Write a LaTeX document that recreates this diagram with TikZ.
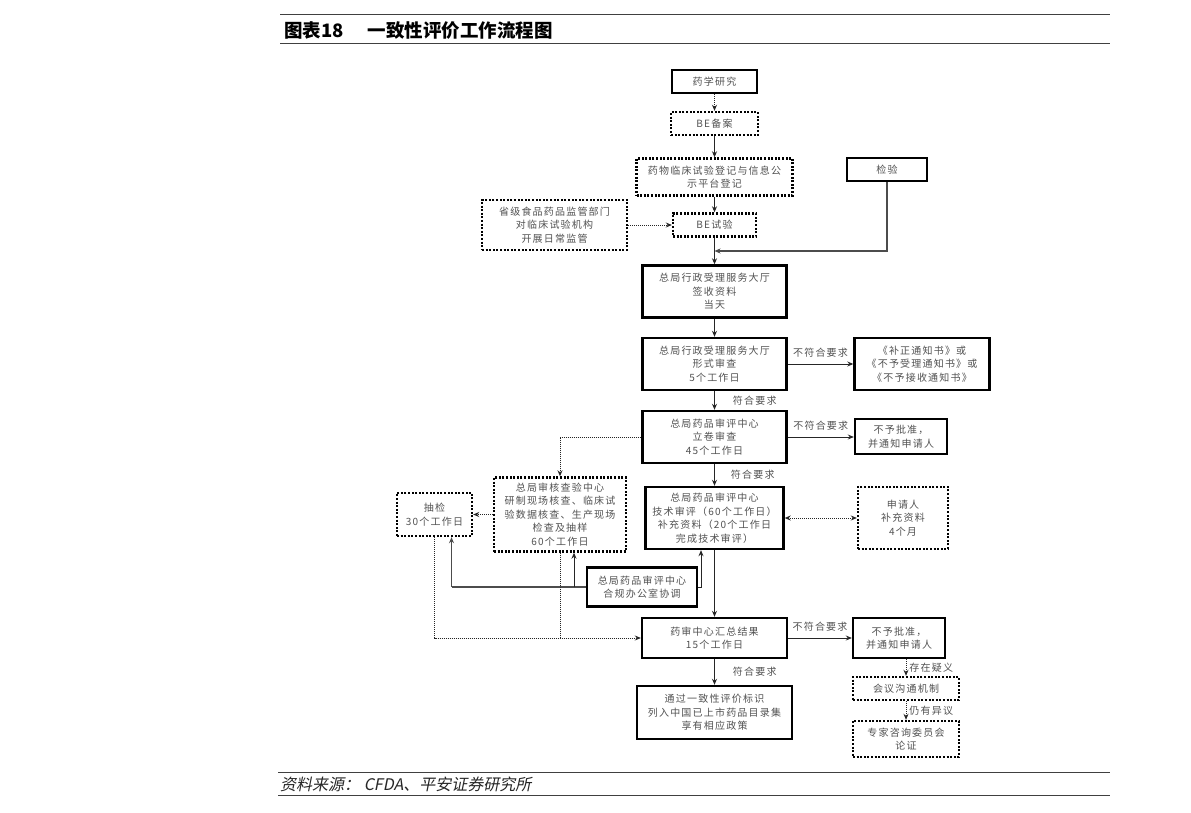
\documentclass[tikz,border=0pt]{standalone}
\usepackage{fontspec}
\newfontfamily\cjk{Noto Sans CJK SC}[LetterSpace=12]
\newfontfamily\cjkt{Noto Sans CJK SC}
\newfontfamily\cjki{Noto Sans CJK SC}[FakeSlant=0.2]
\usetikzlibrary{arrows.meta}
\begin{document}
\begin{tikzpicture}[x=1pt,y=-1pt,
  box/.style={draw=black, line width=2.4pt, align=center, inner sep=0pt,
    font=\cjk\fontsize{10}{13.5}\selectfont, text=black!68},
  sbox/.style={box},
  dbox/.style={box, dash pattern=on 2pt off 1.6pt},
  sz/.style 2 args={minimum width=#1pt, minimum height=#2pt},
  arr/.style={line width=0.9pt, draw=black!85, -{Stealth[length=6pt,width=5pt]}},
  darr/.style={arr, dash pattern=on 1pt off 1pt},
  dline/.style={line width=0.9pt, draw=black!85, dash pattern=on 1pt off 1pt},
  gline/.style={line width=1.3pt, draw=black!70, -{Stealth[length=6pt,width=5pt]}},
  lbl/.style={font=\cjk\fontsize{10}{12}\selectfont, text=black!68, inner sep=1pt},
  rule/.style={line width=1pt, draw=black!75}]
\useasboundingbox (0,0) rectangle (1191,813);
\fill[white] (0,0) rectangle (1191,813);

% header and footer
\draw[rule] (280,15) -- (1110,15);
\draw[rule] (280,44) -- (1110,44);
\node[anchor=west, inner sep=0pt, font=\cjkt\bfseries\fontsize{18.5}{18.5}\selectfont] (title) at (284,31) {图表18\hspace{24pt}一致性评价工作流程图};
\draw[rule] (278,772) -- (1110,772);
\draw[rule] (278,795) -- (1110,795);
\node[anchor=west, inner sep=0pt, font=\cjki\fontsize{16}{16}\selectfont, text=black!85] (src) at (280,784) {资料来源： CFDA、平安证券研究所};

% nodes
\node[sbox, sz={85}{23}] (yxyj) at (714.5,81.5) {药学研究};
\node[dbox, sz={87}{23}] (beba) at (714.5,123.5) {BE备案};
\node[dbox, sz={156}{37}] (djb) at (714.5,177) {药物临床试验登记与信息公\\示平台登记};
\node[sbox, sz={80}{23}] (jy) at (887,169.5) {检验};
\node[dbox, sz={145}{50}] (sj) at (554.5,225) {省级食品药品监管部门\\对临床试验机构\\开展日常监管};
\node[dbox, sz={83}{23}] (besy) at (714.5,225) {BE试验};
\node[sbox, sz={144}{52}] (qs) at (714.5,291.5) {总局行政受理服务大厅\\签收资料\\当天};
\node[sbox, sz={144}{52}] (xs) at (714.5,364) {总局行政受理服务大厅\\形式审查\\5个工作日};
\node[sbox, sz={135}{52}] (bz) at (922,364) {《补正通知书》或\\《不予受理通知书》或\\《不予接收通知书》};
\node[sbox, sz={144}{52}] (lj) at (714.5,437) {总局药品审评中心\\立卷审查\\45个工作日};
\node[sbox, sz={92}{35}] (bp1) at (901,436.5) {不予批准，\\并通知申请人};
\node[dbox, sz={132}{74}] (hc) at (560,514.5) {总局审核查验中心\\研制现场核查、临床试\\验数据核查、生产现场\\检查及抽样\\60个工作日};
\node[dbox, sz={75}{43}] (cj) at (434.5,514.5) {抽检\\30个工作日};
\node[sbox, sz={138}{62}] (js) at (714.5,518) {总局药品审评中心\\技术审评（60个工作日）\\补充资料（20个工作日\\完成技术审评）};
\node[dbox, sz={90}{62}] (sq) at (903,518) {申请人\\补充资料\\4个月};
\node[sbox, sz={110}{39}] (hg) at (642,587) {总局药品审评中心\\合规办公室协调};
\node[sbox, sz={145}{40}] (hz) at (714.5,638) {药审中心汇总结果\\15个工作日};
\node[sbox, sz={92}{40}] (bp2) at (899,638) {不予批准，\\并通知申请人};
\node[sbox, sz={155}{53}] (tg) at (714.5,712.5) {通过一致性评价标识\\列入中国已上市药品目录集\\享有相应政策};
\node[dbox, sz={106}{23}] (hy) at (906,688.5) {会议沟通机制};
\node[dbox, sz={106}{36}] (zj) at (906,739) {专家咨询委员会\\论证};

% main column
\draw[darr] (yxyj) -- (beba);
\draw[arr] (beba) -- (djb);
\draw[arr] (djb) -- (besy);
\draw[darr] (sj) -- (besy);
\draw[arr] (besy) -- (qs);
\coordinate (jyj) at (714.5,251);
\draw[gline] (jy.south) |- (jyj);
\draw[arr] (qs) -- (xs);
\draw[arr] (xs) -- node[lbl, above=5pt] {不符合要求} (xs.east -| bz.west);
\draw[arr] (xs) -- node[lbl, right=17pt] {符合要求} (lj);
\draw[arr] (lj) -- node[lbl, above=5pt] {不符合要求} (lj.east -| bp1.west);
\draw[arr] (lj) -- node[lbl, right=15pt] {符合要求} (js);
\draw[darr] (lj.west) -| (hc.north);
\draw[darr] (hc.west) -- (hc.west -| cj.east);
\draw[darr, {Stealth[length=6pt,width=5pt]}-{Stealth[length=6pt,width=5pt]}] (js.east) -- (js.east -| sq.west);

% coordination office
\coordinate (cjb) at ([xshift=17pt]cj.south);
\coordinate (hcb) at ([xshift=14pt]hc.south);
\coordinate (jsb) at ([xshift=-13.5pt]js.south);
\draw[gline, -] (hg.west) -- (hg.west -| cjb);
\draw[gline] (hg.west -| cjb) -- (cjb);
\draw[arr] (hg.west -| hcb) -- (hcb);
\draw[arr] (hg.east) -| (jsb);

% to summary
\draw[arr] (js) -- (hz);
\draw[darr] (cj.south) |- (hz.west);
\draw[dline] (hc.south) -- (hc.south |- hz.west);
\draw[arr] (hz) -- node[lbl, above=5pt] {不符合要求} (hz.east -| bp2.west);
\draw[arr] (hz) -- node[lbl, right=17pt] {符合要求} (tg);
\draw[darr] (hy.north |- bp2.south) -- node[lbl, right=2pt] {存在疑义} (hy.north);
\draw[darr] (hy) -- node[lbl, right=2pt] {仍有异议} (zj);
\end{tikzpicture}
\end{document}
